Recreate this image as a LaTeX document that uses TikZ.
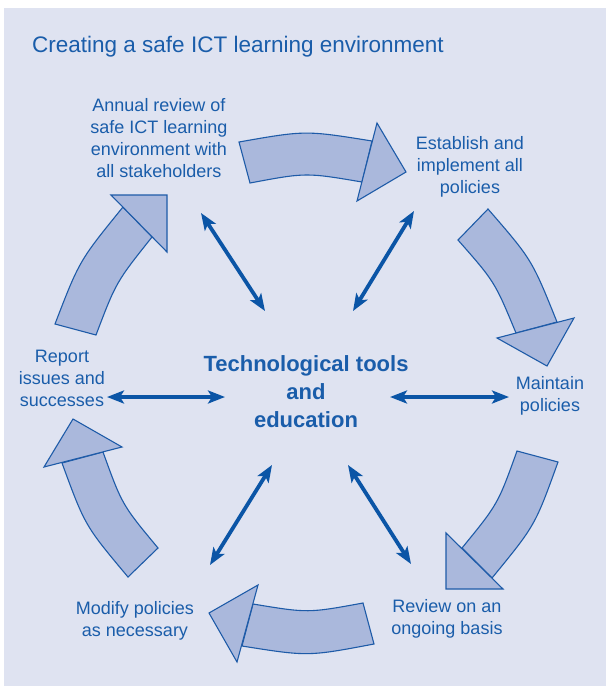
\documentclass[tikz,border=0pt]{standalone}
\usepackage{fontspec}
\setmainfont{Liberation Sans}
\usetikzlibrary{arrows.meta}
\definecolor{bgc}{HTML}{DFE3F1}
\definecolor{fillc}{HTML}{AAB8DC}
\definecolor{linec}{HTML}{1E5BA8}
\definecolor{txtc}{HTML}{1A5DAA}
\definecolor{darrc}{HTML}{0B55A6}
\begin{document}
\begin{tikzpicture}[x=1pt,y=-1pt,
  bigarrow/.style={fill=fillc,draw=linec,line width=1.1pt,line join=miter},
  lbl/.style={text=txtc,font=\fontsize{18}{22}\selectfont,align=center,inner sep=0pt},
  hubtext/.style={text=txtc,font=\fontsize{22}{28}\selectfont\bfseries,align=center,inner sep=0pt},
  dbl/.style={draw=darrc,line width=3.8pt,{Stealth[length=17pt,width=13pt,inset=4pt]}-{Stealth[length=17pt,width=13pt,inset=4pt]}}]
\useasboundingbox (0,0) rectangle (606,686);
\fill[bgc] (4,8) rectangle (606,686);
% title
\node[anchor=base west,inner sep=0pt,text=txtc,font=\fontsize{22.5}{27}\selectfont] (title) at (32,52) {Creating a safe ICT learning environment};
% labels
\node[lbl] (annual) at (159,138) {Annual review of\\safe ICT learning\\environment with\\all stakeholders};
\node[lbl] (establish) at (470,167) {Establish and\\implement all\\policies};
\node[lbl] (maintain) at (550,395.5) {Maintain\\policies};
\node[lbl] (review) at (447,619) {Review on an\\ongoing basis};
\node[lbl] (modify) at (135,620.5) {Modify policies\\as necessary};
\node[lbl] (report) at (62,378) {Report\\issues and\\successes};
\node[hubtext] (hub) at (306,392) {Technological tools\\and\\education};
% big curved arrows: bodies then heads
\draw[bigarrow] (239,142) .. controls (305.5,130.3) .. (372,141) -- (362,182) .. controls (306,172.5) .. (250,183) -- cycle;
\draw[bigarrow] (377,123) -- (406,172) -- (357,201) -- cycle;
\draw[bigarrow] (488,209) .. controls (531.9,259.6) .. (557,322) -- (516,333) .. controls (494.7,281.7) .. (458,240) -- cycle;
\draw[bigarrow] (497,338) -- (574,318) -- (547,366) -- cycle;
\draw[bigarrow] (558,462) .. controls (535.1,525.5) .. (492,578) -- (462,548) .. controls (497.9,504.1) .. (517,451) -- cycle;
\draw[bigarrow] (446,533) -- (446,589) -- (503,589) -- cycle;
\draw[bigarrow] (374,644) .. controls (308,656.5) .. (242,646) -- (253,604) .. controls (308,613.1) .. (363,603) -- cycle;
\draw[bigarrow] (258,585) -- (209,613) -- (237,662) -- cycle;
\draw[bigarrow] (128,577) .. controls (85,525.7) .. (62,463) -- (103,452) .. controls (122.1,504.8) .. (158,548) -- cycle;
\draw[bigarrow] (44,467) -- (73,419) -- (122,447) -- cycle;
\draw[bigarrow] (55,324) .. controls (79.4,260.6) .. (123,207) -- (152,237) .. controls (116.1,282.1) .. (96,335) -- cycle;
\draw[bigarrow] (111,195) -- (167,195) -- (167,252) -- cycle;
% double arrow end points
\coordinate (ula) at (201,213); \coordinate (ulb) at (265,311);
\coordinate (ura) at (414,211); \coordinate (urb) at (353,311);
\coordinate (la) at (107,397); \coordinate (lb) at (225,397);
\coordinate (ra) at (390,397); \coordinate (rb) at (509,397);
\coordinate (lla) at (272,465); \coordinate (llb) at (210,565);
\coordinate (lra) at (348,465); \coordinate (lrb) at (411,564);
\draw[dbl] (ula) -- (ulb);
\draw[dbl] (ura) -- (urb);
\draw[dbl] (la) -- (lb);
\draw[dbl] (ra) -- (rb);
\draw[dbl] (lla) -- (llb);
\draw[dbl] (lra) -- (lrb);
\end{tikzpicture}
\end{document}
